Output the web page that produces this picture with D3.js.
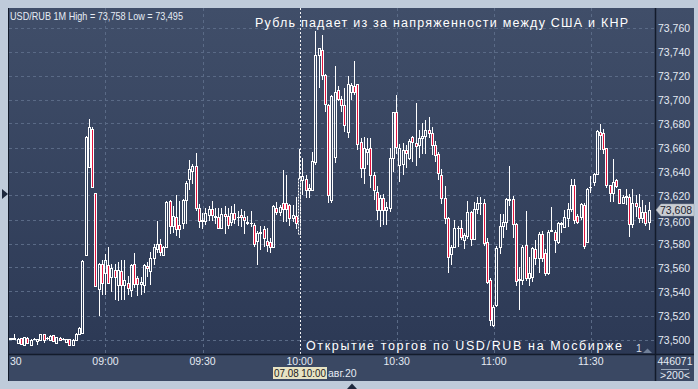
<!DOCTYPE html>
<html><head><meta charset="utf-8">
<script src="https://cdn.jsdelivr.net/npm/d3@7"></script>
<style>html,body{margin:0;padding:0;background:#bfcbda;overflow:hidden}svg{display:block}</style>
</head><body>
<svg id="c" width="698" height="389"></svg>
<script>
// ---- data (USD/RUB, 1-minute candles, 07.08.2020 from 08:30) ----
const startTime = new Date(2020, 7, 7, 8, 30);
const endTime = new Date(2020, 7, 7, 11, 50);
const open = [
73.5011,73.5008,73.5011,73.4967,73.5011,73.4958,73.5014,73.4958,73.5006,73.4989,
73.5000,73.5042,73.5011,73.4994,73.5036,73.4967,73.5014,73.5006,73.4978,73.5006,
73.4958,73.5000,73.5050,73.5056,73.5703,73.6439,73.6758,73.6217,73.5417,73.5628,
73.5550,73.5619,73.5522,73.5578,73.5453,73.5572,73.5453,73.5472,73.5411,73.5633,
73.5510,73.5460,73.5456,73.5614,73.5572,73.5678,73.5753,73.5800,73.5708,73.5775,
73.6156,73.5942,73.6017,73.5953,73.5970,73.6160,73.6336,73.6406,73.6442,73.6100,
73.5986,73.5986,73.6036,73.6086,73.6017,73.6022,73.5933,73.6042,73.6025,73.5980,
73.6053,73.6017,73.6036,73.6022,73.5975,73.5967,73.5953,73.5820,73.5890,73.5925,
73.5821,73.5815,73.5774,73.6099,73.6065,73.6135,73.6135,73.6120,73.6010,73.6032,
73.5876,73.6330,73.6337,73.6246,73.6246,73.6480,73.7370,73.7412,73.7204,73.6954,
73.6162,73.6524,73.7079,73.7004,73.6954,73.6732,73.7065,73.7115,73.7126,73.6649,
73.6426,73.6565,73.6593,73.6370,73.6232,73.6079,73.6180,73.6079,73.6093,73.6515,
73.6893,73.6454,73.6461,73.6579,73.6510,73.6685,73.6635,73.6620,73.6676,73.6696,
73.6750,73.6720,73.6624,73.6543,73.6370,73.6176,73.6010,73.5713,73.5774,73.5926,
73.5926,73.5829,73.5862,73.6065,73.5835,73.6085,73.6135,73.6135,73.5815,73.5496,
73.5121,73.5288,73.5773,73.5946,73.5982,73.6165,73.6168,73.5960,73.5499,73.5500,
73.5787,73.5510,73.5524,73.5754,73.5676,73.5876,73.5718,73.5551,73.5905,73.5898,
73.5815,73.5965,73.5940,73.6010,73.6088,73.6287,73.6026,73.6018,73.6120,73.5815,
73.6268,73.6315,73.6379,73.6732,73.6718,73.6593,73.6287,73.6218,73.6329,73.6251,
73.6135,73.6190,73.6190,73.5960,73.6135,73.6101,73.6010,73.6065,73.5982];
const high = [
73.5017,73.5014,73.5042,73.5011,73.5014,73.5020,73.5017,73.5003,73.5011,73.5008,
73.5045,73.5045,73.5022,73.5036,73.5039,73.5020,73.5017,73.5011,73.5008,73.5008,
73.5003,73.5053,73.5106,73.5664,73.6700,73.6836,73.6767,73.6220,73.5639,73.5661,
73.5711,73.5772,73.5633,73.5628,73.5647,73.5660,73.5660,73.5530,73.5633,73.5717,
73.5530,73.5520,73.5630,73.5650,73.5725,73.5800,73.5986,73.5840,73.5780,73.6156,
73.6164,73.6110,73.6200,73.6156,73.6170,73.6320,73.6494,73.6460,73.6553,73.6128,
73.6058,73.6100,73.6114,73.6153,73.6100,73.6100,73.6100,73.6114,73.6092,73.6114,
73.6128,73.6072,73.6086,73.6072,73.6031,73.6072,73.5967,73.5900,73.5942,73.5947,
73.5932,73.5843,73.6120,73.6149,73.6120,73.6410,73.6370,73.6130,73.6120,73.6190,
73.6588,73.6510,73.6370,73.6300,73.6565,73.7575,73.7430,73.7538,73.7210,73.6960,
73.7035,73.7280,73.7110,73.7030,73.7100,73.7200,73.7140,73.7324,73.7130,73.6676,
73.6690,73.6676,73.6676,73.6400,73.6280,73.6200,73.6215,73.6150,73.6593,73.6900,
73.7037,73.6630,73.6635,73.6620,73.6668,73.6700,73.6968,73.6746,73.6800,73.6830,
73.6857,73.6770,73.6650,73.6560,73.6420,73.6280,73.6020,73.5790,73.5996,73.5946,
73.5996,73.5885,73.6154,73.6070,73.6146,73.6185,73.6185,73.6170,73.5850,73.5510,
73.5285,73.5780,73.6046,73.6046,73.6176,73.6446,73.6196,73.5970,73.5607,73.5785,
73.6070,73.5690,73.5774,73.5830,73.5897,73.5900,73.5750,73.5910,73.6107,73.5910,
73.5982,73.5982,73.6080,73.6135,73.6335,73.6335,73.6048,73.6135,73.6135,73.6265,
73.6362,73.6385,73.6750,73.6796,73.6754,73.6600,73.6290,73.6500,73.6335,73.6251,
73.6204,73.6251,73.6212,73.6251,73.6204,73.6212,73.6165,73.6120,73.6149];
const low = [
73.5003,73.5000,73.4994,73.4964,73.4958,73.4953,73.4967,73.4953,73.4994,73.4953,
73.4994,73.4967,73.4994,73.4989,73.4986,73.4961,73.4989,73.4997,73.4972,73.4950,
73.4956,73.4994,73.5047,73.5053,73.5700,73.6430,73.6260,73.5440,73.5200,73.5369,
73.5369,73.5461,73.5397,73.5328,73.5322,73.5328,73.5328,73.5375,73.5355,73.5430,
73.5364,73.5370,73.5390,73.5525,73.5450,73.5620,73.5720,73.5700,73.5705,73.5770,
73.5875,73.5890,73.5864,73.5847,73.5925,73.5964,73.6250,73.6300,73.6070,73.5933,
73.5919,73.5958,73.5990,73.5990,73.5961,73.5925,73.5925,73.5878,73.5925,73.5944,
73.5961,73.5947,73.5936,73.5878,73.5953,73.5936,73.5767,73.5622,73.5747,73.5775,
73.5732,73.5720,73.5770,73.6038,73.6030,73.5980,73.5980,73.5950,73.5980,73.5920,
73.5870,73.6200,73.6180,73.6180,73.6240,73.6454,73.7100,73.7160,73.6893,73.6135,
73.6135,73.6475,73.6985,73.6900,73.6730,73.6680,73.7000,73.7040,73.6580,73.6343,
73.6300,73.6454,73.6260,73.6160,73.6000,73.5940,73.5954,73.5954,73.6060,73.6400,
73.6550,73.6315,73.6370,73.6426,73.6496,73.6480,73.6450,73.6510,73.6550,73.6550,
73.6680,73.6537,73.6480,73.6330,73.6126,73.5960,73.5557,73.5620,73.5760,73.5774,
73.5830,73.5750,73.5840,73.5780,73.5830,73.6046,73.6038,73.5776,73.5465,73.5113,
73.5107,73.5274,73.5710,73.5850,73.5910,73.6110,73.5850,73.5443,73.5246,73.5450,
73.5490,73.5446,73.5480,73.5620,73.5550,73.5650,73.5530,73.5540,73.5898,73.5718,
73.5800,73.5885,73.5935,73.5940,73.6065,73.5965,73.5960,73.5996,73.5757,73.5807,
73.6220,73.6280,73.6370,73.6580,73.6550,73.6265,73.6148,73.6150,73.6260,73.6126,
73.6126,73.6118,73.5857,73.5926,73.6024,73.5974,73.5968,73.5943,73.5913];
const close = [
73.5008,73.5011,73.5006,73.5006,73.4961,73.5017,73.4972,73.5000,73.5008,73.5006,
73.5042,73.5000,73.5011,73.5031,73.4989,73.5017,73.4994,73.5008,73.5006,73.4953,
73.5000,73.5050,73.5092,73.5658,73.6689,73.6767,73.6267,73.5444,73.5633,73.5472,
73.5661,73.5467,73.5592,73.5522,73.5578,73.5453,73.5494,73.5425,73.5619,73.5461,
73.5460,73.5480,73.5620,73.5592,73.5680,73.5772,73.5792,73.5733,73.5775,73.6142,
73.5942,73.6025,73.5925,73.5925,73.6160,73.6308,73.6425,73.6442,73.6092,73.5986,
73.5992,73.6053,73.6086,73.6036,73.6025,73.5933,73.6042,73.6025,73.5953,73.6053,
73.6003,73.6020,73.6017,73.6000,73.5978,73.5969,73.5800,73.5890,73.5892,73.5847,
73.5788,73.5774,73.6113,73.6065,73.6107,73.6085,73.6088,73.6010,73.6038,73.5968,
73.6343,73.6365,73.6246,73.6260,73.6488,73.7370,73.7426,73.7204,73.6960,73.6204,
73.7029,73.7065,73.7004,73.6954,73.6788,73.7126,73.7120,73.7065,73.6630,73.6426,
73.6593,73.6590,73.6371,73.6246,73.6079,73.6176,73.6079,73.6107,73.6515,73.6893,
73.6601,73.6600,73.6579,73.6557,73.6657,73.6643,73.6613,73.6676,73.6696,73.6746,
73.6724,73.6620,73.6537,73.6385,73.6176,73.6010,73.5685,73.5774,73.5926,73.5929,
73.5857,73.5871,73.6065,73.5835,73.6085,73.6135,73.6138,73.5807,73.5482,73.5163,
73.5274,73.5760,73.5946,73.5982,73.6168,73.6168,73.5960,73.5488,73.5502,73.5774,
73.5510,73.5557,73.5760,73.5676,73.5876,73.5676,73.5551,73.5893,73.5910,73.5829,
73.5968,73.5973,73.6018,73.6088,73.6287,73.5996,73.5982,73.6126,73.5779,73.6251,
73.6270,73.6379,73.6740,73.6704,73.6585,73.6287,73.6218,73.6315,73.6279,73.6135,
73.6190,73.6193,73.5960,73.6135,73.6112,73.6010,73.6065,73.5968,73.6079];
const priceTicks = [73.50,73.52,73.54,73.56,73.58,73.60,73.62,73.64,73.66,73.68,73.70,73.72,73.74,73.76];
const timeTicks = ["08:30","09:00","09:30","10:00","10:30","11:00","11:30"];
const cursorTime = "10:00";
const cursorLabel = "07.08 10:00";
const cursorSuffix = "авг.20";
const lastPrice = 73.608;
const headerText = "USD/RUB 1M High = 73,758 Low = 73,495";
const titleText = "Рубль падает из за напряженности между США и КНР";
const noteText = "Открытие торгов по USD/RUB на Мосбирже";
const volText = "446071";
const volSub = ">200<";

// ---- layout ----
const svg = d3.select("#c");
const FONT = "'Liberation Sans', Arial, sans-serif";
const FS = 10.5;
const P = {l: 9, r: 655, t: 8, b: 354};
const parseT = s => { const [h, m] = s.split(":").map(Number); return new Date(2020, 7, 7, h, m); };
const x = d3.scaleTime().domain([startTime, endTime]).range([8.44, 655.5]);
const y = d3.scaleLinear().domain([73.5, 73.76]).range([339.5, 27.5]);
const fmtP = v => d3.format(".3f")(v).replace(".", ",");

const defs = svg.append("defs");
const g1 = defs.append("linearGradient").attr("id", "bg").attr("x1", 0).attr("y1", 0).attr("x2", 0).attr("y2", 1);
g1.append("stop").attr("offset", "0%").attr("stop-color", "#404e69");
g1.append("stop").attr("offset", "100%").attr("stop-color", "#2c3955");
defs.append("clipPath").attr("id", "plotclip").append("rect")
  .attr("x", P.l).attr("y", P.t).attr("width", P.r - P.l).attr("height", P.b - P.t);

// frame
svg.append("rect").attr("width", 698).attr("height", 389).attr("fill", "#bfcbda");
svg.append("rect").attr("x", 8).attr("y", 8).attr("width", 686).attr("height", 347).attr("fill", "url(#bg)");
svg.append("rect").attr("x", 8).attr("y", 355).attr("width", 686).attr("height", 26).attr("fill", "#3a4863");

// grid
const grid = svg.append("g").attr("clip-path", "url(#plotclip)");
grid.selectAll(".hg").data(priceTicks).join("line")
  .attr("x1", P.l).attr("x2", P.r)
  .attr("y1", d => Math.round(y(d)) + 0.5).attr("y2", d => Math.round(y(d)) + 0.5)
  .attr("stroke", "#5a6a86").attr("stroke-dasharray", "3,3");
grid.selectAll(".vg").data(timeTicks.filter(t => t !== cursorTime)).join("line")
  .attr("x1", d => Math.round(x(parseT(d))) + 0.5).attr("x2", d => Math.round(x(parseT(d))) + 0.5)
  .attr("y1", P.t).attr("y2", P.b)
  .attr("stroke", "#5a6a86").attr("stroke-dasharray", "3,3");
// cursor line
const cx = Math.round(x(parseT(cursorTime))) + 0.5;
grid.append("line").attr("x1", cx).attr("x2", cx).attr("y1", P.t).attr("y2", P.b)
  .attr("stroke", "#f4f4f4").attr("stroke-dasharray", "2,2");

// candles
const candles = svg.append("g").attr("clip-path", "url(#plotclip)");
open.forEach((o, i) => {
  const c = close[i], h = high[i], l = low[i];
  const t = d3.timeMinute.offset(startTime, i);
  const xc = Math.floor(x(t));
  const yTop = Math.round(y(Math.max(o, c)));
  const yBot = Math.round(y(Math.min(o, c)));
  const yH = Math.round(y(h)), yL = Math.round(y(l));
  const isCursor = d3.timeFormat("%H:%M")(t) === cursorTime;
  const dash = isCursor ? "2,1" : null;
  if (yH < yTop) candles.append("line").attr("x1", xc + 0.5).attr("x2", xc + 0.5).attr("y1", yH).attr("y2", yTop)
    .attr("stroke", "#fff");
  if (yL > yBot) candles.append("line").attr("x1", xc + 0.5).attr("x2", xc + 0.5).attr("y1", yBot + 1).attr("y2", yL)
    .attr("stroke", "#fff");
  if (yBot - yTop < 1) {
    candles.append("line").attr("x1", xc - 1).attr("x2", xc + 2).attr("y1", yTop + 0.5).attr("y2", yTop + 0.5)
      .attr("stroke", "#fff");
  } else {
    candles.append("rect").attr("x", xc - 0.5).attr("y", yTop + 0.5).attr("width", 2).attr("height", yBot - yTop)
      .attr("fill", c < o ? "#e2143e" : "none").attr("stroke", "#fff").attr("stroke-dasharray", dash);
  }
});

// borders
const border = "#131b2b";
svg.append("line").attr("x1", 8).attr("x2", 694).attr("y1", 354.5).attr("y2", 354.5).attr("stroke", border).attr("stroke-width", 1.5);
svg.append("line").attr("x1", 655.5).attr("x2", 655.5).attr("y1", 8).attr("y2", 381).attr("stroke", border).attr("stroke-width", 1.5);
svg.append("line").attr("x1", 8.5).attr("x2", 8.5).attr("y1", 8).attr("y2", 381).attr("stroke", border);

// price axis labels (a label right under the last-price box is nudged down so they do not overlap)
const txtCol = "#e4eaf2";
const yp = Math.round(y(lastPrice));
svg.selectAll(".pl").data(priceTicks).join("text")
  .attr("x", 658)
  .attr("y", d => {
    const yy = y(d) + 4;
    const dy = y(d) - yp;
    return (dy > 0 && dy < 14) ? yp + 6 + 10 : yy;
  })
  .attr("font-family", FONT).attr("font-size", FS).attr("fill", txtCol)
  .text(fmtP);
// last price marker
svg.append("path").attr("d", `M656,${yp} L661,${yp - 6} L694,${yp - 6} L694,${yp + 6} L661,${yp + 6} Z`)
  .attr("fill", "#c9cdd3").attr("stroke", "#9aa2ae").attr("stroke-width", 0.5);
svg.append("text").attr("x", 660).attr("y", yp + 4).attr("font-family", FONT).attr("font-size", FS)
  .attr("fill", "#1c2230").text(fmtP(lastPrice));

// time axis labels (the first one only partly fits at the left edge: its minutes remain)
svg.selectAll(".tl").data(timeTicks).join("text")
  .attr("x", d => x(parseT(d)) < 20 ? 10 : x(parseT(d)))
  .attr("text-anchor", d => x(parseT(d)) < 20 ? "start" : "middle")
  .attr("y", 365)
  .attr("font-family", FONT).attr("font-size", FS).attr("fill", txtCol)
  .text(d => x(parseT(d)) < 20 ? d.split(":")[1] : d);
// cursor label
svg.append("rect").attr("x", 273).attr("y", 367).attr("width", 54).attr("height", 12).attr("fill", "#e7e3c3");
svg.append("text").attr("x", 300).attr("y", 377).attr("text-anchor", "middle")
  .attr("font-family", FONT).attr("font-size", FS).attr("fill", "#1a1a1a")
  .attr("textLength", 52).attr("lengthAdjust", "spacingAndGlyphs").text(cursorLabel);
svg.append("text").attr("x", 328).attr("y", 377)
  .attr("font-family", FONT).attr("font-size", FS).attr("fill", txtCol).text(cursorSuffix);

// volume cell
svg.append("text").attr("x", 675).attr("y", 365).attr("text-anchor", "middle")
  .attr("font-family", FONT).attr("font-size", FS).attr("fill", txtCol).text(volText);
svg.append("line").attr("x1", 661).attr("x2", 689).attr("y1", 369.5).attr("y2", 369.5).attr("stroke", "#9aa8bb");
svg.append("text").attr("x", 675).attr("y", 379).attr("text-anchor", "middle")
  .attr("font-family", FONT).attr("font-size", FS).attr("fill", txtCol).text(volSub);

// header, title, note
svg.append("text").attr("x", 10).attr("y", 19.5).attr("font-family", FONT).attr("font-size", FS)
  .attr("fill", "#e6ecf4").attr("textLength", 173).attr("lengthAdjust", "spacingAndGlyphs").text(headerText);
svg.append("text").attr("x", 255).attr("y", 27).attr("font-family", FONT).attr("font-size", 12.5)
  .attr("fill", "#ffffff").attr("textLength", 373).attr("lengthAdjust", "spacing").text(titleText);
svg.append("text").attr("x", 306).attr("y", 350).attr("font-family", FONT).attr("font-size", 12.5)
  .attr("fill", "#ffffff").attr("textLength", 316).attr("lengthAdjust", "spacing").text(noteText);
svg.append("text").attr("x", 636).attr("y", 352).attr("font-family", FONT).attr("font-size", FS)
  .attr("fill", "#d8dee8").text("1");
svg.append("path").attr("d", "M643,353 L647.5,348.5 L652,353 Z").attr("fill", "#6f7f98");

// frame arrows
svg.append("path").attr("d", "M2,189 L8,194 L2,199 Z").attr("fill", "#1d283d");
svg.append("path").attr("d", "M347,389 L352,383.5 L357,389 Z").attr("fill", "#1d283d");
</script>
</body></html>
